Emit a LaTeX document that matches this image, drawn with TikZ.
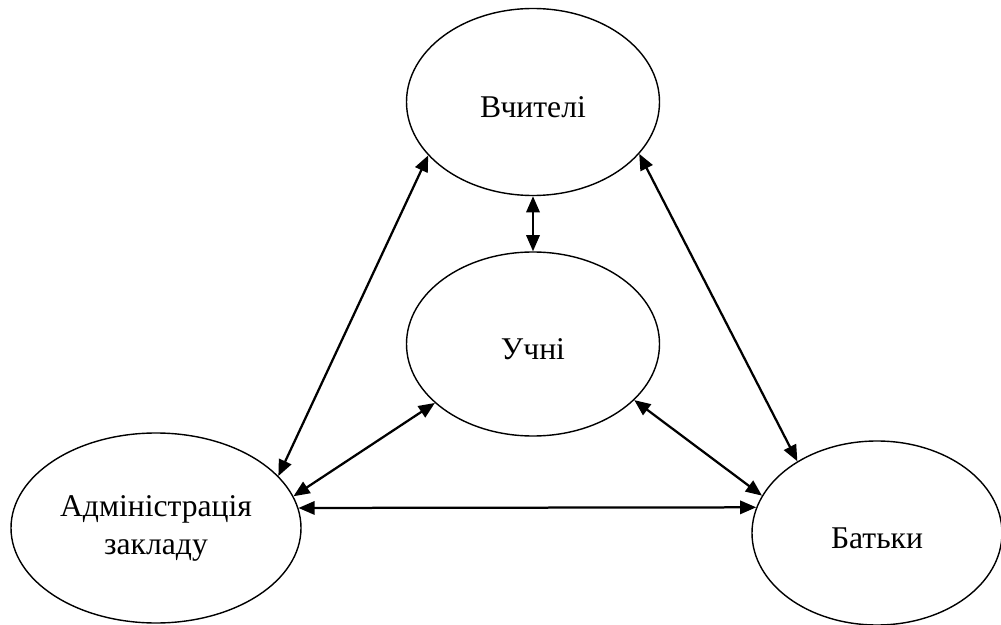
\documentclass[tikz,border=0pt]{standalone}
\usepackage{fontspec}
\setmainfont{Liberation Serif}
\usepackage{tikz}
\usetikzlibrary{shapes.geometric, arrows.meta}
\tikzstyle{uchasnyk} = [draw, ellipse, line width=1pt, inner sep=0pt, font=\fontsize{22.5}{27}\selectfont]
\tikzstyle{zvyazok} = [{Triangle[length=11.5pt,width=9.5pt]}-{Triangle[length=11.5pt,width=9.5pt]}, line width=1.6pt]

\begin{document}
\begin{tikzpicture}
	\useasboundingbox (0,0) rectangle (25.025,-15.625);
	\node [uchasnyk, text height=22pt, text depth=0pt, minimum width=6.325cm, minimum height=4.675cm] (vchyteli) at (13.325,-2.55) {Вчителі};
	\node [uchasnyk, text height=22pt, text depth=0pt, minimum width=6.325cm, minimum height=4.6cm] (uchni) at (13.325,-8.6) {Учні};
	\node [uchasnyk, align=center, minimum width=7.25cm, minimum height=4.75cm] (admin) at (3.9,-13.2) {Адміністрація\\закладу};
	\node [uchasnyk, text height=22pt, text depth=0pt, minimum width=6.25cm, minimum height=4.6cm] (batky) at (21.925,-13.325) {Батьки};
	% zv'iazky
	\draw [zvyazok] (vchyteli.south) -- (uchni.north);
	\draw [zvyazok] (vchyteli.207) -- (admin.23.5);
	\draw [zvyazok] (vchyteli.334) -- (batky.138);
	\draw [zvyazok] (uchni.211) -- (admin.13);
	\draw [zvyazok] (uchni.331) -- (batky.162);
	\draw [zvyazok] (admin.8) -- (batky.168.4);
\end{tikzpicture}
\end{document}
